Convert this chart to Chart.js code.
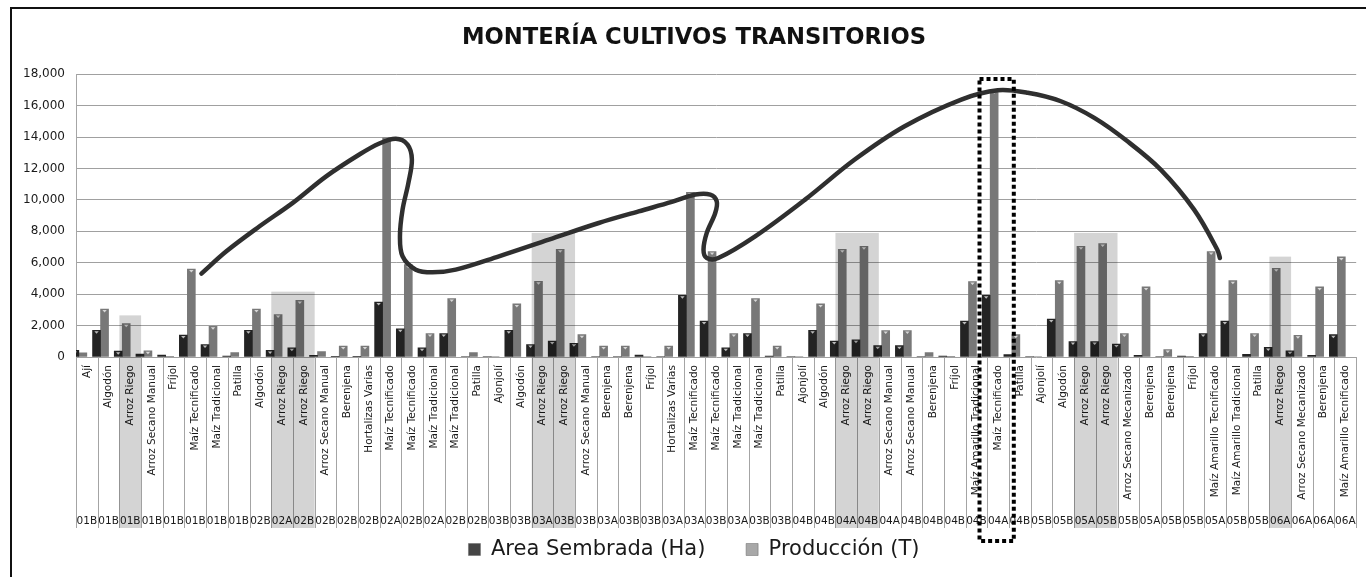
<!DOCTYPE html>
<html>
<head>
<meta charset="utf-8">
<title>Montería cultivos transitorios</title>
<script src="https://cdn.jsdelivr.net/npm/chart.js@4.4.1/dist/chart.umd.min.js"></script>
<style>
  html, body { margin: 0; padding: 0; background: #ffffff; }
  #wrap { position: relative; width: 1366px; height: 577px; overflow: hidden; }
  #wrap canvas { position: absolute; left: 0; top: 0; }
  #frame { position: absolute; left: 10px; top: 7px; width: 1400px; height: 640px;
           border-left: 2px solid #111; border-top: 2px solid #111; pointer-events: none; }
</style>
</head>
<body>
<div id="wrap">
  <canvas id="chart" width="1366" height="577"></canvas>
  <div id="frame"></div>
</div>
<script>
// Crop names per municipality/season row
const crops = [
  'Ají', 'Algodón', 'Arroz Riego', 'Arroz Secano Manual', 'Fríjol', 'Maíz Tecnificado', 'Maíz Tradicional', 'Patilla',
  'Algodón', 'Arroz Riego', 'Arroz Riego', 'Arroz Secano Manual', 'Berenjena', 'Hortalizas Varias', 'Maíz Tecnificado',
  'Maíz Tecnificado', 'Maíz Tradicional', 'Maíz Tradicional', 'Patilla',
  'Ajonjolí', 'Algodón', 'Arroz Riego', 'Arroz Riego', 'Arroz Secano Manual', 'Berenjena', 'Berenjena', 'Fríjol',
  'Hortalizas Varias', 'Maíz Tecnificado', 'Maíz Tecnificado', 'Maíz Tradicional', 'Maíz Tradicional', 'Patilla',
  'Ajonjolí', 'Algodón', 'Arroz Riego', 'Arroz Riego', 'Arroz Secano Manual', 'Arroz Secano Manual', 'Berenjena', 'Fríjol',
  'Maíz Amarillo Tradicional', 'Maíz Tecnificado', 'Patilla',
  'Ajonjolí', 'Algodón', 'Arroz Riego', 'Arroz Riego', 'Arroz Secano Mecanizado', 'Berenjena', 'Berenjena', 'Fríjol',
  'Maíz Amarillo Tecnificado', 'Maíz Amarillo Tradicional', 'Patilla',
  'Arroz Riego', 'Arroz Secano Mecanizado', 'Berenjena', 'Maíz Amarillo Tecnificado'
];

// Year / semester code for each row
const seasons = [
  '01B', '01B', '01B', '01B', '01B', '01B', '01B', '01B',
  '02B', '02A', '02B', '02B', '02B', '02B', '02A',
  '02B', '02A', '02B', '02B',
  '03B', '03B', '03A', '03B', '03B', '03A', '03B', '03B',
  '03A', '03A', '03B', '03A', '03B', '03B',
  '04B', '04B', '04A', '04B', '04A', '04B', '04B', '04B',
  '04B', '04A', '04B',
  '05B', '05B', '05A', '05B', '05B', '05A', '05B', '05B',
  '05A', '05B', '05B',
  '06A', '06A', '06A', '06A'
];

// Area Sembrada (Ha)
const areaSembrada = [
  420, 1700, 370, 190, 130, 1400, 790, 60,
  1700, 420, 590, 100, 20, 20, 3500,
  1800, 590, 1490, 30,
  30, 1700, 790, 1020, 870, 30, 30, 120,
  30, 3930, 2290, 590, 1490, 60,
  30, 1700, 1020, 1100, 720, 720, 30, 60,
  2290, 3930, 150,
  30, 2420, 980, 980, 830, 100, 30, 60,
  1490, 2290, 165,
  610, 400, 100, 1420
];

// Producción (T)
const produccion = [
  260, 3050, 2120, 400, 40, 5600, 1950, 280,
  3050, 2700, 3600, 340, 700, 700, 13950,
  5880, 1490, 3720, 280,
  30, 3380, 4820, 6860, 1420, 700, 700, 30,
  700, 10480, 6710, 1490, 3720, 700,
  30, 3380, 6860, 7050, 1680, 1680, 280, 40,
  4800, 16980, 1420,
  30, 4860, 7050, 7220, 1490, 4460, 470, 40,
  6710, 4860, 1490,
  5650, 1380, 4460, 6370
];

// Value axis ticks
const yMin = 0;
const yMax = 18000;
const yStep = 2000;

// Highlighted rice groups: first row, last row, band height (T)
const riceBands = [
  [2, 2, 2650],
  [9, 10, 4160],
  [21, 22, 7900],
  [35, 36, 7900],
  [46, 47, 7900],
  [55, 55, 6390]
];

// Hand-drawn trend stroke through the Maíz peaks: [row position, value]
const trendPath = [
  [5.28, 5310], [6.43, 6730], [7.96, 8320], [9.49, 9810], [11.03, 11500], [12.56, 12890],
  [13.48, 13590], [14.24, 13890], [14.78, 13520], [14.98, 12570], [14.82, 11080],
  [14.55, 9380], [14.43, 7680], [14.55, 6410], [15.16, 5560], [15.93, 5390],
  [17.0, 5560], [18.99, 6410], [21.29, 7470], [23.59, 8530], [25.43, 9270],
  [26.96, 9870], [28.04, 10340], [28.73, 10340], [29.03, 9910], [28.96, 9170],
  [28.57, 7900], [28.42, 6830], [28.57, 6300], [29.1, 6300], [30.8, 7680],
  [33.1, 10020], [35.39, 12570], [37.69, 14690], [40.3, 16390], [41.98, 16980],
  [43.36, 16820], [44.89, 16280], [46.43, 15220], [47.96, 13730], [49.49, 11930],
  [51.03, 9380], [52.1, 6830], [52.22, 6300]
];

// Dotted frame around the largest production row: [from, to, top value]
const focusFrame = [41.14, 42.72, 17700];

const FONT = 'DejaVu Sans';
const BAR_W = 8;

function barFill(edge, mid) {
  return (ctx) => {
    const chart = ctx.chart;
    const xs = chart.scales && chart.scales.x;
    if (!chart.chartArea || !xs || typeof ctx.dataIndex !== 'number') return mid;
    const cx = xs.getPixelForValue(ctx.dataIndex) + (ctx.datasetIndex === 0 ? -BAR_W / 2 : BAR_W / 2);
    const g = chart.ctx.createLinearGradient(cx - BAR_W / 2, 0, cx + BAR_W / 2, 0);
    g.addColorStop(0, edge);
    g.addColorStop(0.45, mid);
    g.addColorStop(1, edge);
    return g;
  };
}

const decorations = {
  id: 'decorations',
  // category separators in the label band
  beforeDatasetsDraw(chart) {
    const xs = chart.scales.x, xc = chart.scales.xCode;
    const ctx = chart.ctx;
    const w = xs.width / crops.length;
    const top = chart.chartArea.bottom;
    const bottom = xc.bottom + 3;
    ctx.save();
    ctx.strokeStyle = '#a4a4a4';
    ctx.lineWidth = 1;
    for (let i = 0; i <= crops.length; i++) {
      const x = Math.round(xs.left + i * w) + 0.5;
      ctx.beginPath();
      ctx.moveTo(x, top);
      ctx.lineTo(x, bottom);
      ctx.stroke();
    }
    ctx.restore();
  },
  afterDatasetDraw(chart, args) {
    if (args.index !== 0) return;
    const xs = chart.scales.x, ys = chart.scales.y, xc = chart.scales.xCode;
    const ctx = chart.ctx;
    ctx.save();
    // small bevel highlight on every bar top
    ctx.fillStyle = 'rgba(255,255,255,0.7)';
    [0, 1].forEach((di) => {
      chart.getDatasetMeta(di).data.forEach((bar) => {
        if (bar.base - bar.y < 5) return;
        ctx.beginPath();
        ctx.moveTo(bar.x - 2.2, bar.y + 1);
        ctx.lineTo(bar.x + 2.2, bar.y + 1);
        ctx.lineTo(bar.x, bar.y + 3.5);
        ctx.closePath();
        ctx.fill();
      });
    });
    // translucent bands over the rice rows
    const bottom = xc.bottom + 3;
    ctx.fillStyle = 'rgba(0,0,0,0.17)';
    riceBands.forEach(([a, b, v]) => {
      const x0 = xs.getPixelForValue(a - 0.5);
      const x1 = xs.getPixelForValue(b + 0.5);
      const y0 = ys.getPixelForValue(v);
      ctx.fillRect(x0, y0, x1 - x0, bottom - y0);
    });
    ctx.restore();
  },
  afterDraw(chart) {
    const xs = chart.scales.x, ys = chart.scales.y, xc = chart.scales.xCode;
    const ctx = chart.ctx;
    const x0 = xs.getPixelForValue(focusFrame[0]);
    const x1 = xs.getPixelForValue(focusFrame[1]);
    const y0 = ys.getPixelForValue(focusFrame[2]);
    const y1 = xc.bottom + 16;
    ctx.save();
    ctx.strokeStyle = '#000';
    ctx.lineWidth = 4;
    ctx.setLineDash([4, 3]);
    ctx.strokeRect(x0, y0, x1 - x0, y1 - y0);
    ctx.restore();
  }
};

const legendFills = ['#454545', '#a8a8a8'];

new Chart(document.getElementById('chart'), {
  type: 'bar',
  data: {
    labels: crops,
    datasets: [
      {
        label: 'Area Sembrada (Ha)',
        data: areaSembrada,
        backgroundColor: barFill('#232323', '#606060'),
        borderWidth: 0,
        xAxisID: 'x',
        yAxisID: 'y',
        barThickness: BAR_W
      },
      {
        label: 'Producción (T)',
        data: produccion,
        backgroundColor: barFill('#787878', '#b6b6b6'),
        borderWidth: 0,
        xAxisID: 'x',
        yAxisID: 'y',
        barThickness: BAR_W
      },
      {
        type: 'line',
        label: 'tendencia',
        data: trendPath.map(([x, y]) => ({ x, y })),
        xAxisID: 'xt',
        yAxisID: 'y',
        borderColor: '#2f2f2f',
        borderWidth: 4.5,
        borderCapStyle: 'round',
        borderJoinStyle: 'round',
        pointRadius: 0,
        tension: 0.35,
        fill: false,
        order: -1
      }
    ]
  },
  options: {
    responsive: false,
    devicePixelRatio: 1,
    animation: false,
    events: [],
    layout: { padding: { top: 10, left: 22, right: 0, bottom: 7 } },
    plugins: {
      title: {
        display: true,
        text: 'MONTERÍA CULTIVOS TRANSITORIOS',
        color: '#111',
        font: { family: FONT, size: 22.7, weight: 'bold' },
        padding: { top: 14, bottom: 23 }
      },
      legend: {
        position: 'bottom',
        labels: {
          color: '#1a1a1a',
          font: { family: FONT, size: 21 },
          boxWidth: 12,
          boxHeight: 12,
          padding: 14,
          filter: (item) => item.datasetIndex < 2,
          generateLabels: (chart) => {
            const items = Chart.defaults.plugins.legend.labels.generateLabels(chart);
            items.forEach((it) => {
              if (it.datasetIndex < 2) {
                it.fillStyle = legendFills[it.datasetIndex];
                it.strokeStyle = '#666';
                it.lineWidth = 0.5;
              }
              if (it.datasetIndex === 0) it.text = it.text + '    ';
            });
            return items;
          }
        }
      },
      tooltip: { enabled: false }
    },
    scales: {
      x: {
        type: 'category',
        position: 'bottom',
        offset: true,
        weight: 0,
        grid: { display: false, drawTicks: false },
        border: { display: false },
        ticks: {
          autoSkip: false,
          minRotation: 90,
          maxRotation: 90,
          padding: 8,
          color: '#1a1a1a',
          font: { family: FONT, size: 10.5 }
        },
        afterFit: (s) => { s.height = 150; }
      },
      xCode: {
        type: 'category',
        labels: seasons,
        position: 'bottom',
        offset: true,
        weight: 1,
        grid: { display: false, drawTicks: false },
        border: { display: false },
        ticks: {
          autoSkip: false,
          minRotation: 0,
          maxRotation: 0,
          padding: 8,
          color: '#1a1a1a',
          font: { family: FONT, size: 10.5 }
        },
        afterFit: (s) => { s.height = 18; }
      },
      xt: {
        type: 'linear',
        display: false,
        min: -0.5,
        max: crops.length - 0.5,
        offset: false
      },
      y: {
        min: yMin,
        max: yMax,
        grid: { color: '#a0a0a0', lineWidth: 1, drawTicks: false },
        border: { display: true, color: '#a6a6a6' },
        ticks: {
          stepSize: yStep,
          padding: 11,
          color: '#1a1a1a',
          font: { family: FONT, size: 12 },
          callback: (v) => Number(v).toLocaleString('en-US')
        },
        afterFit: (s) => { s.width = 54; }
      },
      // empty right-hand margin column
      yEdge: {
        type: 'linear',
        position: 'right',
        display: true,
        grid: { display: false, drawTicks: false },
        border: { display: false },
        ticks: { display: false },
        afterFit: (s) => { s.width = 7; }
      }
    }
  },
  plugins: [decorations]
});
</script>
</body>
</html>
